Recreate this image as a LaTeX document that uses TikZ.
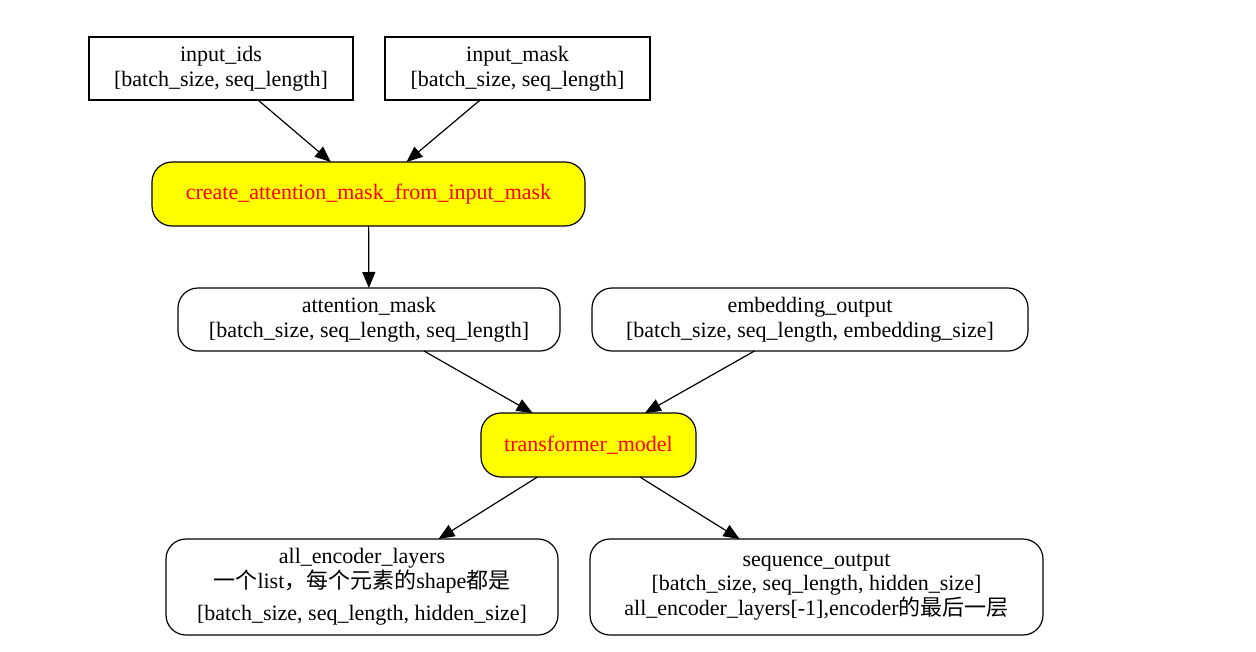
\documentclass[tikz,border=0pt]{standalone}
\usepackage{fontspec}
\setmainfont{Liberation Serif}
\newfontfamily\cjk{Noto Sans CJK SC}
\usetikzlibrary{arrows.meta}
\definecolor{gvyellow}{RGB}{255,255,0}
\definecolor{gvred}{RGB}{255,0,0}
\begin{document}
\begin{tikzpicture}[x=1pt,y=-1pt,
  base/.style={draw=black, line width=1.2pt, inner sep=0pt, outer sep=0pt, align=center,
    font=\fontsize{22}{24.5}\selectfont, text=black},
  box/.style={base},
  rbox/.style={base, rounded corners=20pt},
  op/.style={base, rounded corners=20pt, fill=gvyellow, text=gvred},
  conn/.style={line width=1.2pt, -{Triangle[length=16pt,width=13pt]}}
]
\useasboundingbox (0,0) rectangle (1256,651);
\node[box, minimum width=264pt, minimum height=63pt] (ids) at (221,68.5) {input\_ids\\{[}batch\_size, seq\_length{]}};
\node[box, minimum width=265pt, minimum height=63pt] (mask) at (517.5,68.5) {input\_mask\\{[}batch\_size, seq\_length{]}};
\node[op, minimum width=433pt, minimum height=64pt] (create) at (368.5,194) {create\_attention\_mask\_from\_input\_mask};
\node[rbox, minimum width=382pt, minimum height=63pt] (att) at (369,319.5) {attention\_mask\\{[}batch\_size, seq\_length, seq\_length{]}};
\node[rbox, minimum width=436pt, minimum height=63pt] (emb) at (810,319.5) {embedding\_output\\{[}batch\_size, seq\_length, embedding\_size{]}};
\node[op, minimum width=215pt, minimum height=64pt] (tm) at (588.5,445) {transformer\_model};
\node[rbox, minimum width=392pt, minimum height=96pt] (enc) at (362,587) {all\_encoder\_layers\\{\cjk 一个}list{\cjk ，每个元素的}shape{\cjk 都是}\\[8pt]{[}batch\_size, seq\_length, hidden\_size{]}};
\node[rbox, minimum width=453pt, minimum height=96pt] (seq) at (816.5,587) {sequence\_output\\{[}batch\_size, seq\_length, hidden\_size{]}\\all\_encoder\_layers{[}-1{]},encoder{\cjk 的最后一层}};
\draw[conn] (ids) -- (create);
\draw[conn] (mask) -- (create);
\draw[conn] (create) -- (att);
\draw[conn] (att) -- (tm);
\draw[conn] (emb) -- (tm);
\draw[conn] (tm) -- (enc);
\draw[conn] (tm) -- (seq);
\end{tikzpicture}
\end{document}
